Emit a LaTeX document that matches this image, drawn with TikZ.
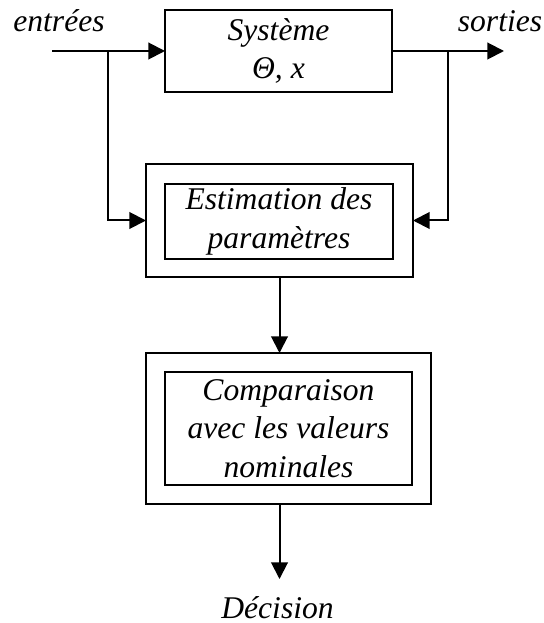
\documentclass[tikz,border=0pt]{standalone}
\usepackage{fontspec}
\setmainfont{Liberation Serif}
\usetikzlibrary{arrows.meta}
\begin{document}
\begin{tikzpicture}[x=0.75pt,y=-0.75pt,
  every node/.style={font=\itshape\fontsize{23.7}{28.9}\selectfont, inner sep=0pt, outer sep=0pt},
  box/.style={draw, line width=1.5pt, align=center},
  conn/.style={line width=1.5pt},
  arr/.style={conn, -{Triangle[length=12.5pt,width=12.5pt]}},
  lbl/.style={anchor=base}]
\useasboundingbox (0,0) rectangle (543,623);
% boxes
\node[box, minimum width=170.25pt, minimum height=61.5pt] (sys) at (278.5,51) {Système\\Θ, x};
\node[box, minimum width=200.25pt, minimum height=84.75pt] (estOut) at (279.5,220.5) {};
\node[box, minimum width=171pt, minimum height=56.25pt] (estIn) at (279,221.5) {Estimation des\\paramètres};
\node[box, minimum width=213.4pt, minimum height=113.25pt] (cmpOut) at (288.25,428.5) {};
\node[box, minimum width=185.25pt, minimum height=84.75pt] (cmpIn) at (288.5,428.5) {Comparaison\\avec les valeurs\\nominales};
% labels
\node[lbl] (in) at (59,32) {entrées};
\node[lbl] (out) at (500,32) {sorties};
\node[lbl] (dec) at (277.5,618) {Décision};
% coordinates
\coordinate (inStart) at (52,51);
\coordinate (inBr) at (108,51);
\coordinate (outBr) at (448,51);
\coordinate (outEnd) at (504,51);
\coordinate (decEnd) at (279.5,579);
% connectors
\draw[arr] (inStart) -- (sys.west);
\draw[arr] (inBr) |- (estOut.west);
\draw[arr] (sys.east) -- (outEnd);
\draw[arr] (outBr) |- (estOut.east);
\draw[arr] (estOut.south) -- (estOut.south |- cmpOut.north);
\draw[arr] (decEnd |- cmpOut.south) -- (decEnd);
\end{tikzpicture}
\end{document}
